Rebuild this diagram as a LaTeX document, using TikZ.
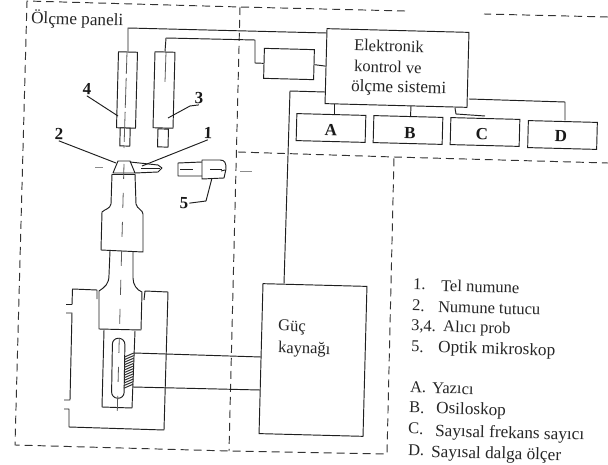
\documentclass[tikz,border=0pt]{standalone}
\usepackage{fontspec}
\setmainfont{Liberation Serif}
\tikzset{
  ln/.style={line width=0.95pt,black!88,line join=round},
  panel/.style={line width=0.95pt,black!80,dash pattern=on 8pt off 5pt},
  axis/.style={line width=0.8pt,black!65,dash pattern=on 15pt off 14pt},
  stray/.style={line width=0.8pt,black!45},
  box/.style={draw=black!88,line width=0.95pt,rotate=-1.5,inner sep=0pt,fill=white},
  txt/.style={font=\fontsize{16.5}{18}\selectfont,rotate=-1.5,anchor=west,inner sep=0pt,text=black!85},
  txtb/.style={txt,font=\fontsize{17.2}{18}\selectfont},
  ltr/.style={font=\fontsize{17}{18}\selectfont\bfseries,rotate=-1.5,inner sep=0pt,text=black!90},
  num/.style={font=\fontsize{17}{18}\selectfont\bfseries,rotate=-1.5,inner sep=1pt,text=black!90}
}
\begin{document}
\begin{tikzpicture}[x=1pt,y=-1pt]
\useasboundingbox (0,0) rectangle (608,465);
\fill[white] (0,0) rectangle (608,465);
% dashed panels
\draw[panel] (608,17) -- (484,14);
\draw[panel] (405,11) -- (240,7) -- (27,1) -- (15,445) -- (229,451) -- (387,454) -- (394,157);
\draw[panel] (240,7) -- (229,451);
\draw[panel] (238,152) -- (394,157) -- (608,163);
% boxes
\node[box,minimum width=142pt,minimum height=75pt] (ctrl) at (397,68) {};
\node[box,minimum width=50pt,minimum height=30pt] (small) at (289,64) {};
\node[box,minimum width=104pt,minimum height=150pt] (power) at (313,360) {};
\node[box,minimum width=69pt,minimum height=27pt] (A) at (331,128) {};
\node[box,minimum width=69pt,minimum height=27pt] (B) at (408,130) {};
\node[box,minimum width=69pt,minimum height=27pt] (C) at (485,132) {};
\node[box,minimum width=69pt,minimum height=27pt] (D) at (562.5,135) {};
\node[ltr] (tA) at (331,130) {A};
\node[ltr] (tB) at (410,133) {B};
\node[ltr] (tC) at (482,134) {C};
\node[ltr] (tD) at (561,136) {D};
% probes
\node[box,minimum width=19pt,minimum height=76pt] (p4) at (127,90) {};
\node[box,minimum width=20pt,minimum height=76pt] (p3) at (164,90) {};
\node[box,minimum width=10pt,minimum height=18pt] (t4) at (125,137) {};
\node[box,minimum width=10.5pt,minimum height=18pt] (t3) at (163,138) {};
% coordinates for wires
\coordinate (w4a) at (128,28);
\coordinate (w4b) at (326.5,33);
\coordinate (w3a) at (166,38);
\coordinate (w3b) at (255,40);
\coordinate (w3c) at (255,63);
\coordinate (wpa) at (325,92);
\coordinate (wpb) at (290,91);
\coordinate (wpc) at (284,283.5);
\coordinate (cA) at (334,104);
\coordinate (cB) at (411,106);
\coordinate (cC) at (455,108);
\coordinate (cC2) at (456,114);
\coordinate (cC3) at (485,116);
\coordinate (cD) at (469,99);
\coordinate (cD2) at (565,102);
\coordinate (cD3) at (565,120.5);
\coordinate (aA) at (334,114.5);
\coordinate (aB) at (410.5,116.5);
\coordinate (hw1) at (134,353);
\coordinate (hw2) at (133,387);
\coordinate (pw1) at (261,357);
\coordinate (pw2) at (260,390);
% wires
\draw[ln] (p4.north) -- (w4a) -- (w4b);
\draw[ln] (p3.north) -- (w3a) -- (w3b) -- (w3c) -- (small.west);
\draw[ln] (small.east) -- (ctrl.west);
\draw[ln] (wpa) -- (wpb) -- (wpc);
\draw[ln] (cA) -- (aA);
\draw[ln] (cB) -- (aB);
\draw[ln] (cC) -- (cC2) -- (cC3);
\draw[ln] (cD) -- (cD2) -- (cD3);
\draw[ln] (hw1) -- (pw1);
\draw[ln] (hw2) -- (pw2);
% probe axes
\draw[axis,dash pattern=on 22pt off 4pt on 30pt off 4pt on 30pt off 4pt] (127,52) -- (124,148);
\draw[axis,dash pattern=on 30pt off 100pt] (166,52) -- (165,82);
% sample holder and wire
\draw[ln,fill=white] (118,161) -- (130,161) -- (135,173) -- (113,173) -- cycle;
\draw[ln] (130,162) -- (158,165) -- (162,168) -- (158,172) -- (135,173);
\draw[ln] (141,168) -- (160,168);
% microscope
\draw[ln] (202,162) -- (178,163) -- (178,176) -- (202,176);
\draw[ln] (202,160) -- (220,160) .. controls (225,160) and (226,163) .. (226,169) -- (224,178) -- (202,179) -- cycle;
\draw[ln] (221,171) -- (225,170);
\draw[ln] (180,169) -- (193,169);
\draw[ln] (210,169) -- (222,169);
% horn
\draw[ln] (112,174) -- (135,174);
\draw[ln] (112,174) -- (111,204) .. controls (110,209) and (105,209) .. (102,212) -- (101,250) -- (143,252) -- (143,214) .. controls (143,210) and (137,209) .. (136,204) -- (135,174);
\draw[ln] (110,251) -- (109,275) .. controls (109,284) and (105,287) .. (99,291) -- (99,329) -- (141,330) -- (142,292) .. controls (137,290) and (133,285) .. (133,278) -- (133,252);
\draw[ln] (104,330) -- (102,407) -- (132,408) -- (135,331);
% slot
\draw[ln,rounded corners=6pt] (112.5,338) -- (125,338.5) -- (124,398.5) -- (111.5,398) -- cycle;
% coil hatching
\foreach \k in {0,...,12} {
  \pgfmathsetmacro{\yy}{355+2.6*\k}
  \pgfmathsetmacro{\xa}{124.5-\k*0.05}
  \pgfmathsetmacro{\xb}{133.8-\k*0.05}
  \draw[line width=1pt,black!80] (\xa,\yy+2) -- (\xb,\yy-2);
}
% housing
\draw[ln] (97,299) -- (97,290) -- (72.5,289) -- (72,304.5) -- (66,304.5);
\draw[ln] (66,313) -- (72,313) -- (70,400) -- (64,400);
\draw[ln] (64,409) -- (69,409) -- (69,427) -- (164,430) -- (168,292) -- (145,291) -- (144,300);
% main axis
\draw[axis] (124,164) -- (117,422);
% stray marks
\draw[stray] (95,167) -- (103,167);
\draw[stray] (240,171) -- (252,171);
% leaders and numbers
\node[num] (l1) at (208,133) {1};
\node[num] (l2) at (59,134) {2};
\node[num] (l3) at (199,98) {3};
\node[num] (l4) at (87,89) {4};
\node[num] (l5) at (184,203) {5};
\coordinate (e1) at (142,166);
\coordinate (e2) at (116,163);
\coordinate (e3a) at (190,106);
\coordinate (e3) at (168,118);
\coordinate (e4) at (118,116);
\coordinate (e5a) at (206,201);
\coordinate (e5) at (212,178);
\draw[ln] (l1.south) -- (e1);
\draw[ln] (l2.south) -- (e2);
\draw[ln] (l3.south) -- (e3a) -- (e3);
\draw[ln] (l4.south) -- (e4);
\draw[ln] (l5.east) -- (e5a) -- (e5);
% texts
\node[txtb] (title) at (31,18.5) {Ölçme paneli};
\node[txt] (c1) at (354,45) {Elektronik};
\node[txt] (c2) at (354,66) {kontrol ve};
\node[txtb] (c3) at (351,87) {ölçme sistemi};
\node[txt] (g1) at (278,327) {Güç};
\node[txt] (g2) at (278,349) {kaynağı};
\node[txt] (n1) at (413,284) {1.};
\node[txt] (n1t) at (441,285.5) {Tel numune};
\node[txt] (n2) at (412,305.5) {2.};
\node[txt] (n2t) at (438,307) {Numune tutucu};
\node[txt] (n3) at (411,326.5) {3,4.};
\node[txt] (n3t) at (443,328) {Alıcı prob};
\node[txt] (n5) at (411,346.5) {5.};
\node[txtb] (n5t) at (438,348.5) {Optik mikroskop};
\node[txt] (la) at (410,387) {A.};
\node[txt] (lat) at (432,388) {Yazıcı};
\node[txt] (lb) at (409,407.5) {B.};
\node[txtb] (lbt) at (436,409.5) {Osiloskop};
\node[txt] (lc) at (408,428.5) {C.};
\node[txtb] (lct) at (435,432) {Sayısal frekans sayıcı};
\node[txt] (ld) at (408,450) {D.};
\node[txtb] (ldt) at (431,453) {Sayısal dalga ölçer};
\end{tikzpicture}
\end{document}
